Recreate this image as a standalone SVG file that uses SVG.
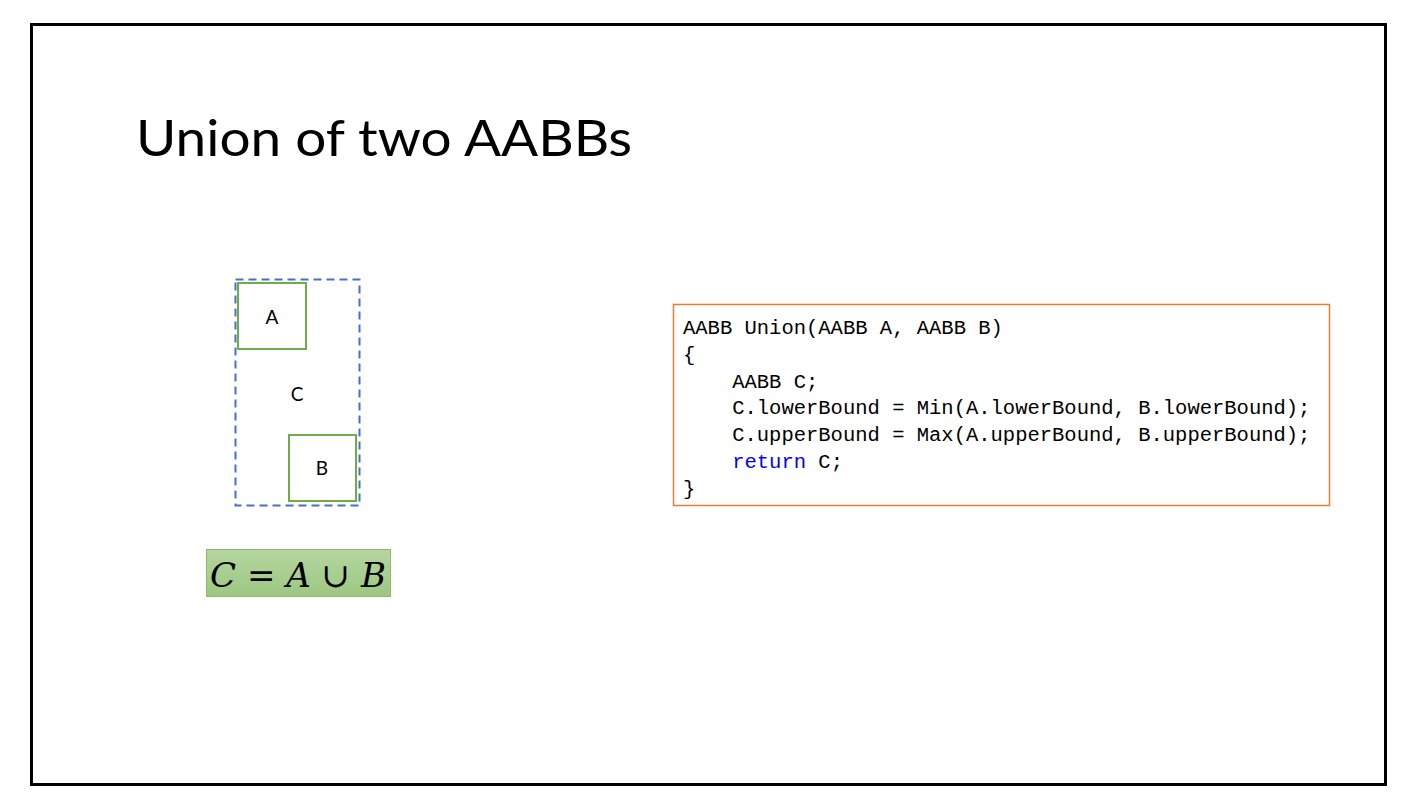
<svg xmlns="http://www.w3.org/2000/svg" width="1418" height="808" viewBox="0 0 1418 808">
  <style>
    .label { font-family: "Lato", "Liberation Sans", sans-serif; font-size: 19px; fill: #000; }
    .code { font-family: "Liberation Mono", "DejaVu Sans Mono", monospace; font-size: 20.5px; fill: #000; white-space: pre; }
    .kw { fill: #0000FF; }
    .box { fill: #fff; stroke: #70AD47; stroke-width: 2; }
  </style>
  <defs>
    <linearGradient id="formulaFill" x1="0" y1="0" x2="0" y2="1">
      <stop offset="0" stop-color="#B5D6A0"/>
      <stop offset="1" stop-color="#9CC781"/>
    </linearGradient>
  </defs>

  <!-- slide background and frame -->
  <rect x="0" y="0" width="1418" height="808" fill="#fff"/>
  <rect x="31.5" y="24.5" width="1354" height="760" fill="#fff" stroke="#000" stroke-width="3"/>

  <!-- title -->
  <text x="136" y="156" font-family="Lato, 'Open Sans', sans-serif" font-size="50" textLength="496" lengthAdjust="spacingAndGlyphs" fill="#000">Union of two AABBs</text>

  <!-- union bounding box C -->
  <g id="nodeC">
    <rect x="235.5" y="279.5" width="124" height="226" fill="none" stroke="#4472C4" stroke-width="2" stroke-dasharray="8,5"/>
    <text class="label" x="297" y="401" text-anchor="middle">C</text>
  </g>

  <!-- box A -->
  <g id="nodeA">
    <rect class="box" x="238" y="283" width="68" height="66"/>
    <text class="label" x="272" y="324" text-anchor="middle">A</text>
  </g>

  <!-- box B -->
  <g id="nodeB">
    <rect class="box" x="289" y="435" width="67" height="66"/>
    <text class="label" x="322" y="475" text-anchor="middle">B</text>
  </g>

  <!-- formula -->
  <g id="formula">
    <rect x="206.5" y="549.5" width="184" height="47" fill="url(#formulaFill)" stroke="#8DBB6E" stroke-width="1"/>
    <text x="298" y="587" text-anchor="middle" font-family="'DejaVu Serif', 'Liberation Serif', serif" font-size="34" fill="#000"><tspan font-style="italic">C</tspan> = <tspan font-style="italic">A</tspan> ∪ <tspan font-style="italic">B</tspan></text>
  </g>

  <!-- code listing -->
  <g id="code">
    <rect x="673.5" y="304.5" width="656" height="201" fill="#fff" stroke="#ED7D31" stroke-width="1.5"/>
    <text class="code" x="683" y="334">AABB Union(AABB A, AABB B)</text>
    <text class="code" x="683" y="361">{</text>
    <text class="code" x="683" y="388">    AABB C;</text>
    <text class="code" x="683" y="414">    C.lowerBound = Min(A.lowerBound, B.lowerBound);</text>
    <text class="code" x="683" y="441">    C.upperBound = Max(A.upperBound, B.upperBound);</text>
    <text class="code" x="683" y="468">    <tspan class="kw">return</tspan> C;</text>
    <text class="code" x="683" y="495">}</text>
  </g>
</svg>
